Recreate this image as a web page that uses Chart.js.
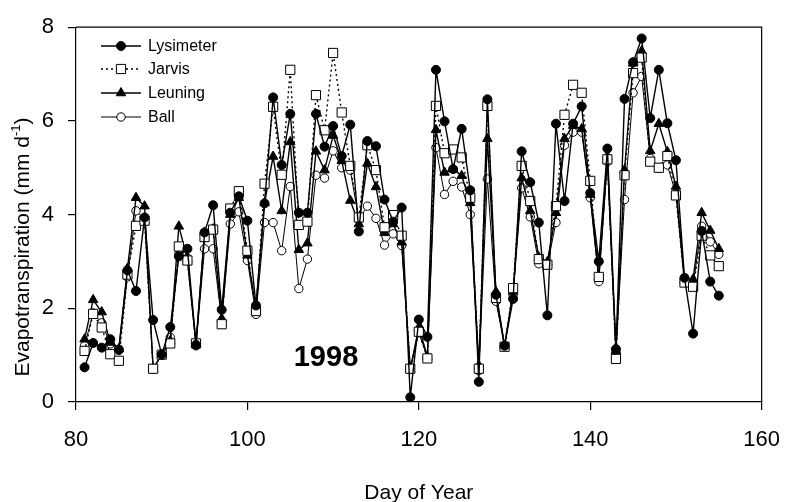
<!DOCTYPE html>
<html>
<head>
<meta charset="utf-8">
<script src="https://cdn.jsdelivr.net/npm/chart.js@4/dist/chart.umd.min.js"></script>
<style>
  body { margin: 0; background: #fff; }
  #wrap { width: 797px; height: 502px; }
</style>
</head>
<body>
<div id="wrap"><canvas id="c" width="797" height="502"></canvas></div>
<script>
const days = [81, 82, 83, 84, 85, 86, 87, 88, 89, 90,
  91, 92, 93, 94, 95, 96, 97, 98, 99, 100,
  101, 102, 103, 104, 105, 106, 107, 108, 109, 110,
  111, 112, 113, 114, 115, 116, 117, 118, 119, 120,
  121, 122, 123, 124, 125, 126, 127, 128, 129, 130,
  131, 132, 133, 134, 135, 136, 137, 138, 139, 140,
  141, 142, 143, 144, 145, 146, 147, 148, 149, 150,
  151, 152, 153, 154, 155]

const lysimeter = [0.74, 1.26, 1.16, 1.34, 1.12, 2.81, 2.37, 3.94, 1.75, 1.01,
  1.6, 3.11, 3.27, 1.22, 3.62, 4.2, 1.97, 4.04, 4.39, 3.87,
  2.06, 4.24, 6.5, 5.06, 6.15, 4.04, 4.04, 6.15, 5.45, 5.89,
  5.25, 5.92, 3.64, 5.57, 5.46, 4.32, 3.85, 4.15, 0.1, 1.76,
  1.39, 7.09, 5.99, 4.97, 5.83, 4.52, 0.43, 6.46, 2.29, 1.2,
  2.2, 5.35, 4.69, 3.83, 1.85, 5.94, 4.29, 5.94, 6.31, 4.46,
  3.0, 5.41, 1.13, 6.47, 7.25, 7.76, 6.06, 7.09, 5.95, 5.16,
  2.65, 1.46, 3.65, 2.57, 2.27]

const jarvis = [1.09, 1.88, 1.59, 1.02, 0.88, 2.72, 3.76, 3.87, 0.71, 1.01,
  1.25, 3.32, 3.02, 1.25, 3.52, 3.68, 1.66, 4.13, 4.5, 3.23,
  1.94, 4.66, 6.3, 4.85, 7.09, 3.78, 3.85, 6.55, 5.8, 7.45,
  6.18, 5.04, 3.94, 5.48, 4.95, 3.73, 3.99, 3.55, 0.71, 1.5,
  0.93, 6.32, 5.31, 5.39, 5.22, 4.36, 0.71, 6.32, 2.22, 1.18,
  2.43, 5.04, 4.29, 3.05, 2.93, 4.18, 6.13, 6.77, 6.6, 4.72,
  2.67, 5.18, 0.92, 4.84, 7.02, 7.35, 5.13, 5.0, 5.25, 4.41,
  2.55, 2.46, 3.55, 3.13, 2.9]

const leuning = [1.34, 2.18, 1.92, 1.27, 1.13, 2.85, 4.36, 4.18, 0.71, 1.01,
  1.31, 3.75, 3.05, 1.25, 3.62, 3.69, 1.78, 4.0, 4.36, 3.13,
  2.0, 4.25, 5.24, 4.08, 5.55, 3.25, 3.39, 5.35, 4.95, 5.69,
  5.15, 4.3, 3.8, 5.09, 4.59, 3.61, 3.8, 3.41, 0.7, 1.59,
  0.97, 5.81, 4.9, 4.97, 4.83, 4.25, 0.78, 5.62, 2.35, 1.2,
  2.36, 4.78, 4.08, 3.09, 2.99, 4.04, 5.62, 5.9, 5.83, 4.43,
  2.67, 5.24, 1.09, 4.95, 7.23, 7.49, 5.36, 5.94, 5.34, 4.6,
  2.6, 2.62, 4.04, 3.66, 3.27]

const ball = [1.2, 1.9, 1.69, 1.24, 1.1, 2.67, 4.08, 3.9, 0.71, 1.01,
  1.38, 3.16, 3.07, 1.2, 3.27, 3.27, 1.72, 3.8, 4.06, 3.02,
  1.87, 3.83, 3.83, 3.23, 4.6, 2.42, 3.05, 4.84, 4.78, 5.36,
  5.0, 4.95, 3.9, 4.18, 3.92, 3.35, 3.59, 3.34, 0.7, 1.48,
  0.95, 5.43, 4.43, 4.71, 4.59, 4.0, 0.67, 4.76, 2.15, 1.2,
  2.29, 4.57, 3.95, 2.95, 2.92, 3.83, 5.48, 5.76, 5.76, 4.36,
  2.57, 5.13, 1.06, 4.32, 6.6, 6.95, 5.2, 4.99, 5.06, 4.43,
  2.55, 2.5, 3.75, 3.42, 3.15]

const xTicks = [80, 100, 120, 140, 160]
const yTicks = [0, 2, 4, 6, 8]

const FONT = '"Liberation Sans", Arial, sans-serif'

// where the plot box sits in the reference picture
const box = { left: 76, top: 22, right: 776, bottom: 402 }

function pairs(values) {
    return days.map((d, i) => ({ x: d, y: values[i] }))
}

const series = [
    { label: 'Lysimeter', values: lysimeter, style: 'circle', fill: '#000', radius: 4.5, width: 1.4, dash: [] },
    { label: 'Jarvis', values: jarvis, style: 'rect', fill: '#fff', radius: 6.5, width: 1.4, dash: [2, 3] },
    { label: 'Leuning', values: leuning, style: 'triangle', fill: '#000', radius: 5.5, width: 1.4, dash: [] },
    { label: 'Ball', values: ball, style: 'circle', fill: '#fff', radius: 4.2, width: 1, dash: [] },
]

const datasets = series.map(s => ({
    label: s.label,
    data: pairs(s.values),
    borderColor: '#000',
    borderWidth: s.width,
    borderDash: s.dash,
    pointStyle: s.style,
    pointRadius: s.radius,
    pointBackgroundColor: s.fill,
    pointBorderColor: '#000',
    pointBorderWidth: 1,
    tension: 0,
    fill: false,
}))

function marker(ctx, s, x, y) {
    ctx.save()
    ctx.fillStyle = s.fill
    ctx.strokeStyle = '#000'
    ctx.lineWidth = 1
    ctx.setLineDash([])
    ctx.beginPath()
    if (s.style === 'circle') {
        ctx.arc(x, y, s.radius, 0, Math.PI * 2)
    } else if (s.style === 'rect') {
        const h = s.radius * Math.SQRT1_2
        ctx.rect(x - h, y - h, 2 * h, 2 * h)
    } else {
        const r = s.radius
        ctx.moveTo(x, y - r)
        ctx.lineTo(x + r * 0.866, y + r * 0.5)
        ctx.lineTo(x - r * 0.866, y + r * 0.5)
        ctx.closePath()
    }
    ctx.fill()
    ctx.stroke()
    ctx.restore()
}

const decorations = {
    id: 'decorations',
    afterDraw(chart) {
        const ctx = chart.ctx
        const area = chart.chartArea

        // frame on top and right
        ctx.save()
        ctx.strokeStyle = '#000'
        ctx.lineWidth = 1.2
        ctx.beginPath()
        ctx.moveTo(area.left, area.top)
        ctx.lineTo(area.right, area.top)
        ctx.lineTo(area.right, area.bottom)
        ctx.stroke()

        // legend
        const rows = [46, 69, 93, 117]
        ctx.font = '16px ' + FONT
        ctx.textBaseline = 'middle'
        series.forEach((s, i) => {
            const y = rows[i]
            ctx.save()
            ctx.lineWidth = s.width
            ctx.setLineDash(s.dash)
            ctx.beginPath()
            ctx.moveTo(101, y)
            ctx.lineTo(141, y)
            ctx.stroke()
            ctx.restore()
            marker(ctx, s, 121, y)
            ctx.fillStyle = '#000'
            ctx.fillText(s.label, 148, y + 1)
        })

        // year label
        ctx.font = 'bold 29px ' + FONT
        ctx.textAlign = 'center'
        ctx.fillText('1998', 326, 358)

        // x title
        ctx.font = '21px ' + FONT
        ctx.textBaseline = 'alphabetic'
        ctx.fillText('Day of Year', (area.left + area.right) / 2, 499)

        // y title with superscript
        ctx.translate(29, 247)
        ctx.rotate(-Math.PI / 2)
        const main = 'Evapotranspiration (mm d'
        ctx.font = '21px ' + FONT
        const w1 = ctx.measureText(main).width
        ctx.font = '13px ' + FONT
        const w2 = ctx.measureText('-1').width
        ctx.font = '21px ' + FONT
        const w3 = ctx.measureText(')').width
        let x = -(w1 + w2 + w3) / 2
        ctx.textAlign = 'left'
        ctx.fillText(main, x, 0)
        x += w1
        ctx.font = '13px ' + FONT
        ctx.fillText('-1', x, -9)
        x += w2
        ctx.font = '21px ' + FONT
        ctx.fillText(')', x, 0)
        ctx.restore()
    }
}

const axisCommon = {
    border: { color: '#000', width: 1.2 },
    grid: { drawOnChartArea: false, tickLength: 8, color: '#000', lineWidth: 1.2 },
}

const chart = new Chart(document.getElementById('c'), {
    type: 'line',
    data: { datasets },
    options: {
        responsive: false,
        animation: false,
        devicePixelRatio: 1,
        layout: { padding: { top: 22, right: 21, left: 0, bottom: 0 } },
        plugins: {
            legend: { display: false },
            tooltip: { enabled: false },
        },
        scales: {
            x: {
                ...axisCommon,
                type: 'linear',
                min: 80,
                max: 160,
                afterBuildTicks: s => { s.ticks = xTicks.map(v => ({ value: v })) },
                ticks: { color: '#000', font: { size: 22, family: FONT }, padding: 17, maxRotation: 0 },
                afterFit: s => { s.height = 502 - box.bottom },
            },
            y: {
                ...axisCommon,
                min: 0,
                max: 8,
                afterBuildTicks: s => { s.ticks = yTicks.map(v => ({ value: v })) },
                ticks: { color: '#000', font: { size: 22, family: FONT }, padding: 14 },
                afterFit: s => { s.width = box.left },
            },
        },
    },
    plugins: [decorations],
})

// nudge the padding so the plot box lands where it is in the reference
for (let i = 0; i < 3; i++) {
    const a = chart.chartArea
    const pad = chart.options.layout.padding
    pad.top += box.top - a.top
    pad.right += a.right - box.right
    chart.update()
}
</script>
</body>
</html>
